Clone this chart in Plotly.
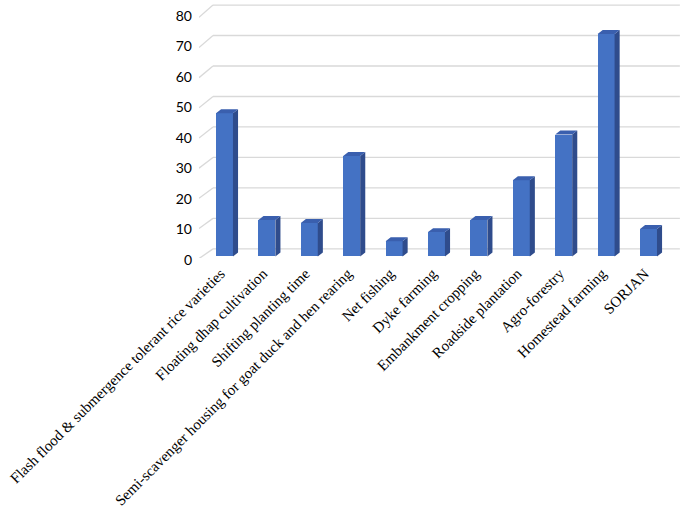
import plotly.graph_objects as go

categories = [
    "Flash flood & submergence tolerant rice varieties",
    "Floating dhap cultivation",
    "Shifting planting time",
    "Semi-scavenger housing for goat duck and hen rearing",
    "Net fishing",
    "Dyke farming",
    "Embankment cropping",
    "Roadside plantation",
    "Agro-forestry",
    "Homestead farming",
    "SORJAN",
]
values = [47, 12, 11, 33, 5, 8, 12, 25, 40, 73, 9]
y_ticks = [0, 10, 20, 30, 40, 50, 60, 70, 80]

FRONT = "#4472C4"
SIDE = "#2F4C8C"
TOP = "#3A5FAE"
GRID = "#D9D9D9"

n = len(categories)
idx = list(range(n))
base = -2.5
hw = 0.2        # half width of front face (category units)
dx = 0.12       # depth offset in x
dy = 1.3        # depth offset in y

x_left, x_right = -0.601, 10.79
wall_left, wall_right = -0.271, 10.74

fig = go.Figure()

# gridlines with perspective stubs (drawn below the bars)
for v in y_ticks:
    fv = -3.19 + 0.9893 * v
    fig.add_shape(type="line", xref="x", yref="y", x0=x_left, y0=fv, x1=wall_left, y1=v,
                  line=dict(color=GRID, width=1.3), layer="below")
    fig.add_shape(type="line", xref="x", yref="y", x0=wall_left, y0=v, x1=wall_right, y1=v,
                  line=dict(color=GRID, width=1.3), layer="below")

# front faces
fig.add_trace(go.Bar(x=idx, y=values, base=base, width=2 * hw,
                     marker=dict(color=FRONT, line=dict(width=0)), showlegend=False))

# side faces
sx, sy = [], []
for i, v in zip(idx, values):
    sx += [i + hw, i + hw + dx, i + hw + dx, i + hw, i + hw, None]
    sy += [base, base + dy, base + v + dy, base + v, base, None]
fig.add_trace(go.Scatter(x=sx, y=sy, mode="lines", fill="toself", fillcolor=SIDE,
                         line=dict(width=0, color=SIDE), hoverinfo="skip", showlegend=False))

# top faces
tx, ty = [], []
for i, v in zip(idx, values):
    top = base + v
    tx += [i - hw, i - hw + dx, i + hw + dx, i + hw, i - hw, None]
    ty += [top, top + dy, top + dy, top, top, None]
fig.add_trace(go.Scatter(x=tx, y=ty, mode="lines", fill="toself", fillcolor=TOP,
                         line=dict(width=0, color=TOP), hoverinfo="skip", showlegend=False))

fig.update_layout(
    width=685, height=516,
    margin=dict(l=199, r=3, t=2, b=258, autoexpand=False),
    paper_bgcolor="white", plot_bgcolor="white",
    xaxis=dict(range=[x_left, x_right], tickmode="array", tickvals=idx, ticktext=categories,
               tickangle=-45, showgrid=False, zeroline=False, showline=False, ticks="",
               automargin=False, ticklabelshift=-4, ticklabelstandoff=3,
               tickfont=dict(family="Liberation Serif", size=15, color="#000000")),
    yaxis=dict(range=[-3, 81], tickmode="array", tickvals=y_ticks, showgrid=False,
               zeroline=False, showline=False, ticks="", ticklabelshift=11,
               ticklabelstandoff=6, automargin=False,
               tickfont=dict(family="Lato", size=14, color="#000000")),
    bargap=0,
)

fig.write_html("out.html", config={"displayModeBar": False},
               post_script="document.body.style.margin='0';document.body.style.overflow='hidden';")
